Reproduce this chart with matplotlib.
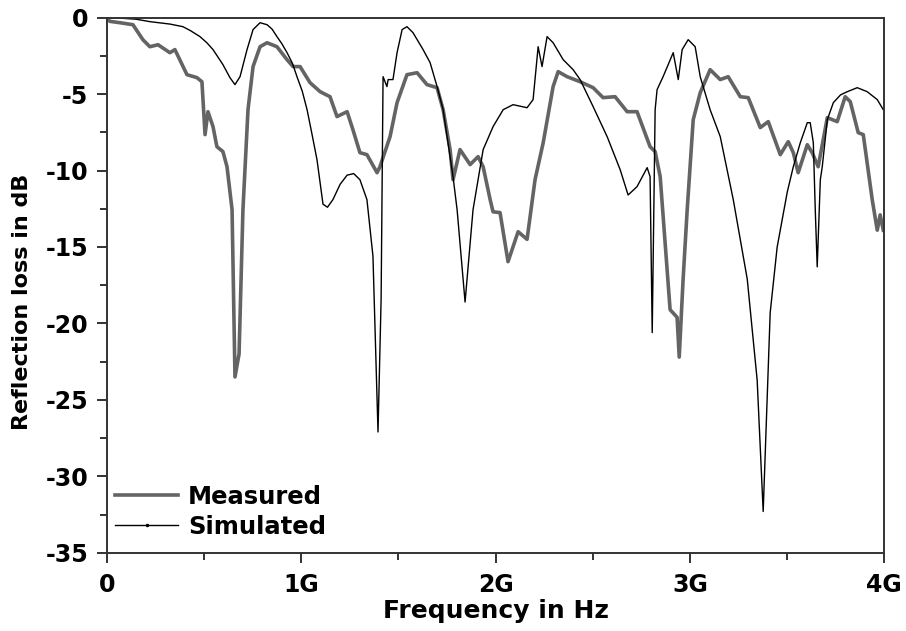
import matplotlib
matplotlib.use("Agg")
import matplotlib.pyplot as plt
from matplotlib.lines import Line2D
from matplotlib.ticker import MultipleLocator, FixedLocator

plt.rcParams['font.family'] = ['DejaVu Sans']
plt.rcParams['font.weight'] = 'bold'
plt.rcParams['axes.unicode_minus'] = False

# frequency in GHz, reflection loss in dB
meas_f = [0.0, 0.015, 0.067, 0.134, 0.185, 0.221, 0.263, 0.324, 0.350, 0.412, 0.463, 0.489,
          0.505, 0.520, 0.546, 0.566, 0.597, 0.618, 0.644, 0.659, 0.680, 0.700, 0.726, 0.752,
          0.788, 0.824, 0.875, 0.927, 0.958, 0.994, 1.045, 1.097, 1.148, 1.184, 1.236, 1.266,
          1.302, 1.338, 1.390, 1.405, 1.457, 1.493, 1.544, 1.596, 1.647, 1.699, 1.730, 1.766,
          1.781, 1.817, 1.869, 1.910, 1.936, 1.972, 1.987, 2.023, 2.064, 2.116, 2.162, 2.203,
          2.245, 2.296, 2.322, 2.368, 2.435, 2.502, 2.553, 2.615, 2.677, 2.728, 2.795, 2.821,
          2.847, 2.898, 2.934, 2.945, 2.965, 2.986, 3.017, 3.053, 3.104, 3.156, 3.197, 3.259,
          3.300, 3.362, 3.403, 3.465, 3.506, 3.532, 3.557, 3.604, 3.629, 3.660, 3.707, 3.758,
          3.799, 3.825, 3.866, 3.892, 3.938, 3.964, 3.979, 3.995]
meas_db = [0.0, -0.24, -0.33, -0.46, -1.44, -1.90, -1.77, -2.29, -2.09, -3.73, -3.92, -4.19,
           -7.65, -6.15, -7.13, -8.44, -8.76, -9.75, -12.56, -23.5, -22.0, -12.56, -6.02, -3.20,
           -1.90, -1.64, -1.90, -2.75, -3.20, -3.20, -4.25, -4.84, -5.17, -6.47, -6.15, -7.33,
           -8.83, -8.96, -10.14, -9.75, -7.78, -5.56, -3.73, -3.60, -4.38, -4.58, -6.02, -8.63,
           -10.6, -8.63, -9.61, -9.09, -9.75, -11.9, -12.7, -12.75, -15.96, -14.0, -14.5, -10.6,
           -8.18, -4.51, -3.53, -3.86, -4.19, -4.58, -5.23, -5.17, -6.15, -6.15, -8.44, -8.76,
           -10.4, -19.1, -19.6, -22.2, -17.1, -12.56, -6.67, -4.91, -3.40, -4.05, -3.86, -5.17,
           -5.23, -7.19, -6.80, -8.96, -8.11, -8.83, -10.14, -8.31, -8.83, -9.75, -6.54, -6.80,
           -5.17, -5.49, -7.52, -7.65, -11.9, -13.9, -12.9, -13.9]

sim_f = [0.0, 0.067, 0.150, 0.221, 0.325, 0.391, 0.430, 0.479, 0.515, 0.546, 0.570, 0.597,
         0.633, 0.659, 0.685, 0.721, 0.752, 0.788, 0.824, 0.850, 0.875, 0.900, 0.927, 0.955,
         0.978, 1.005, 1.030, 1.055, 1.081, 1.112, 1.135, 1.163, 1.200, 1.236, 1.270, 1.302,
         1.338, 1.369, 1.395, 1.411, 1.421, 1.441, 1.447, 1.472, 1.493, 1.519, 1.544, 1.575,
         1.627, 1.663, 1.699, 1.730, 1.755, 1.781, 1.802, 1.843, 1.884, 1.936, 1.987, 2.039,
         2.090, 2.162, 2.193, 2.219, 2.239, 2.265, 2.296, 2.348, 2.399, 2.435, 2.502, 2.574,
         2.641, 2.682, 2.728, 2.780, 2.795, 2.806, 2.821, 2.831, 2.862, 2.914, 2.940, 2.960,
         2.991, 3.027, 3.053, 3.104, 3.156, 3.223, 3.295, 3.346, 3.377, 3.413, 3.449, 3.501,
         3.532, 3.568, 3.604, 3.619, 3.635, 3.645, 3.655, 3.671, 3.681, 3.707, 3.738, 3.775,
         3.810, 3.861, 3.912, 3.964, 3.995]
sim_db = [0.0, -0.03, -0.10, -0.26, -0.42, -0.59, -0.85, -1.24, -1.65, -2.09, -2.55, -3.07,
          -3.92, -4.38, -3.86, -2.09, -0.78, -0.33, -0.46, -0.75, -1.24, -1.70, -2.29, -3.00,
          -3.86, -4.80, -6.02, -7.60, -9.29, -12.2, -12.4, -11.9, -10.9, -10.3, -10.2, -10.6,
          -11.9, -15.6, -27.1, -18.4, -3.86, -4.51, -4.05, -4.05, -2.29, -0.78, -0.59, -0.98,
          -2.09, -2.94, -4.51, -6.02, -8.18, -10.4, -12.56, -18.6, -12.56, -8.63, -7.13, -6.02,
          -5.69, -5.89, -5.36, -1.90, -3.20, -1.24, -1.64, -2.75, -3.40, -4.05, -5.82, -7.78,
          -9.94, -11.6, -11.05, -9.81, -10.4, -20.6, -6.02, -4.71, -3.86, -2.29, -4.05, -2.09,
          -1.44, -1.90, -3.86, -6.02, -7.78, -11.9, -17.1, -23.7, -32.3, -19.3, -15.0, -11.4,
          -9.75, -8.18, -6.87, -6.87, -8.18, -12.56, -16.3, -10.6, -9.75, -6.67, -5.56, -5.05,
          -4.84, -4.58, -4.84, -5.36, -6.02]

xtick_vals = [0, 1, 2, 3, 4]
xtick_labels = ['0', '1G', '2G', '3G', '4G']

fig = plt.figure(figsize=(9.06, 6.31), dpi=100)
ax = fig.add_axes([0.118, 0.124, 0.858, 0.848])

ax.plot(meas_f, meas_db, color='#646464', lw=2.6, solid_joinstyle='round')
ax.plot(sim_f, sim_db, color='black', lw=1.0)

ax.set_xlim(0, 4)
ax.set_ylim(-35, 0)
ax.xaxis.set_major_locator(FixedLocator(xtick_vals))
ax.set_xticklabels(xtick_labels)
ax.xaxis.set_minor_locator(MultipleLocator(0.5))
ax.yaxis.set_major_locator(MultipleLocator(5))
ax.yaxis.set_minor_locator(MultipleLocator(2.5))
ax.tick_params(which='both', direction='out', width=1.4, color='#333333',
               labelsize=17, top=False, right=False)
ax.tick_params(which='major', length=7.5)
ax.tick_params(which='minor', length=5)
ax.tick_params(axis='x', which='major', pad=7)
ax.tick_params(axis='y', which='major', pad=6)
for s in ax.spines.values():
    s.set_linewidth(1.4)
    s.set_color('#333333')

ax.set_xlabel('Frequency in Hz', fontsize=18, fontweight='bold')
ax.set_ylabel('Reflection loss in dB', fontsize=16, fontweight='bold')
ax.xaxis.set_label_coords(0.5, -0.086)
ax.yaxis.set_label_coords(-0.096, 0.469)

handles = [Line2D([0, 0.5, 1], [0, 0, 0], color='#646464', lw=2.6),
           Line2D([0, 0.5, 1], [0, 0, 0], color='black', lw=1.0, marker='.',
                  markersize=3, markevery=[1])]
ax.legend(handles, ['Measured', 'Simulated'], loc='center left', frameon=False,
          fontsize=17.5, handlelength=2.6, handletextpad=0.4, labelspacing=0.25,
          borderpad=0, borderaxespad=0, bbox_to_anchor=(0.0103, 0.077))

fig.savefig('out.png', dpi=100)
